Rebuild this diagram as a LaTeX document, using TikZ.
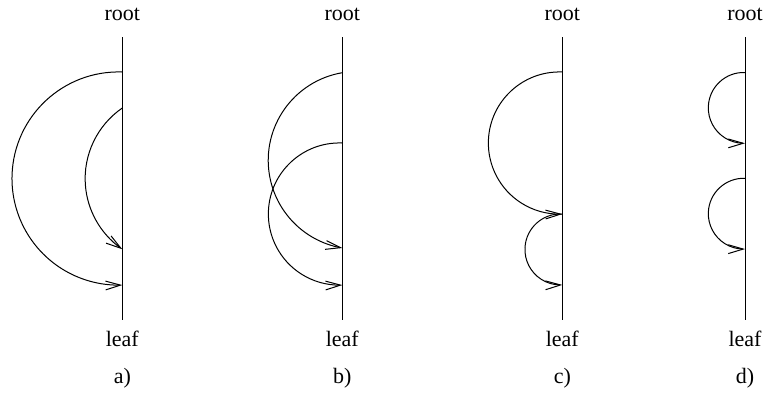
\documentclass[tikz,border=0pt]{standalone}
\usepackage{fontspec}
\setmainfont{Liberation Serif}
\usetikzlibrary{arrows.meta,bending}
\begin{document}
\begin{tikzpicture}[x=0.5pt,y=0.5pt,line width=0.5pt,
  axisline/.style={draw,line width=0.5pt},
  lbl/.style={anchor=base,inner sep=0pt,font=\fontsize{11}{13}\selectfont},
  arcarrow/.style={draw,-{Straight Barb[length=7.5pt,width=4.4pt,flex=1.6]}}]
\useasboundingbox (0,0) rectangle (765,393);
% ---- a)
\coordinate (at) at (122.3,356); \coordinate (ab) at (122.3,73);
\node[lbl] (ar) at (122.3,372.5) {root};
\node[lbl] (al) at (122.3,46.5) {leaf};
\node[lbl] (an) at (122.3,10) {a)};
\path[axisline] (at) -- (ab);
\coordinate (a1) at (122.3,321);
\coordinate (a2) at (122.3,285);
\path[arcarrow] (a1) arc[start angle=88,end angle=272,radius=106.6];
\path[arcarrow] (a2) arc[start angle=124.5,end angle=235.5,radius=85.7];
% ---- b)
\coordinate (bt) at (342.3,356); \coordinate (bb) at (342.3,73);
\node[lbl] (br) at (342.3,372.5) {root};
\node[lbl] (bl) at (342.3,46.5) {leaf};
\node[lbl] (bn) at (342.3,10) {b)};
\path[axisline] (bt) -- (bb);
\coordinate (b1) at (342.3,320.3);
\coordinate (b2) at (342.3,250);
\path[arcarrow] (b1) arc[start angle=99.6,end angle=260.4,radius=88.9];
\path[arcarrow] (b2) arc[start angle=87.7,end angle=272.3,radius=71.1];
% ---- c)
\coordinate (ct) at (562.3,356); \coordinate (cb) at (562.3,73);
\node[lbl] (cr) at (562.3,372.5) {root};
\node[lbl] (cl) at (562.3,46.5) {leaf};
\node[lbl] (cn) at (562.3,10) {c)};
\path[axisline] (ct) -- (cb);
\coordinate (c1) at (562.3,321);
\coordinate (c2) at (562.3,179);
\path[arcarrow] (c1) arc[start angle=87.7,end angle=272.3,radius=71.1];
\path[arcarrow] (c2) arc[start angle=87,end angle=273,radius=35.5];
% ---- d)
\coordinate (dt) at (745,356); \coordinate (db) at (745,73);
\node[lbl] (dr) at (745,372.5) {root};
\node[lbl] (dl) at (745,46.5) {leaf};
\node[lbl] (dn) at (745,10) {d)};
\path[axisline] (dt) -- (db);
\coordinate (d1) at (745,320.5);
\coordinate (d2) at (745,214.7);
\path[arcarrow] (d1) arc[start angle=87.9,end angle=272.1,radius=35.4];
\path[arcarrow] (d2) arc[start angle=87.9,end angle=272.1,radius=35.4];
\end{tikzpicture}
\end{document}
